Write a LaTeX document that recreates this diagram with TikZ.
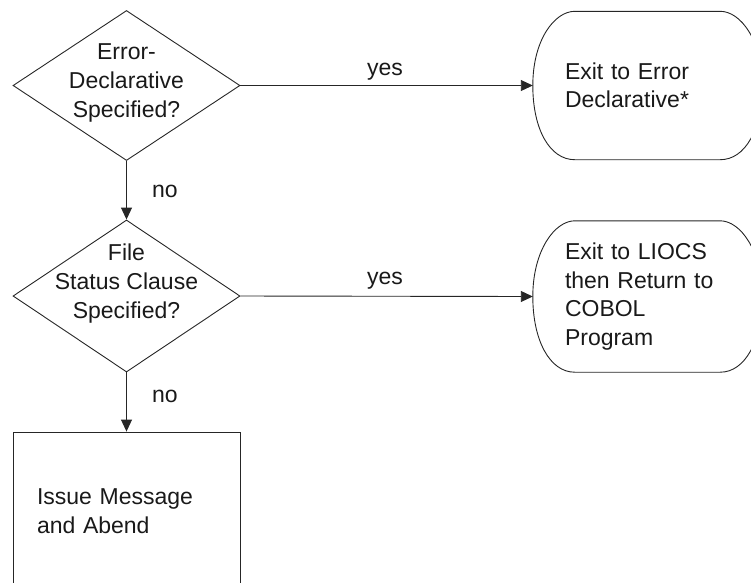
\documentclass[tikz,border=0pt]{standalone}
\usepackage{fontspec}
\setmainfont{Liberation Sans}
\usetikzlibrary{shapes.geometric,arrows.meta,calc}

% outline of a terminal box with bulging sides, drawn round a named node
\newcommand\exitoutline[1]{%
  \draw[line]
    ($(#1.north west)+(42,0)$) -- ($(#1.north east)+(-42,0)$)
    .. controls ($(#1.north east)+(-22,0)$) and ($(#1.east)+(0,-46)$) .. (#1.east)
    .. controls ($(#1.east)+(0,44)$) and ($(#1.south east)+(-17,0)$) .. ($(#1.south east)+(-42,0)$)
    -- ($(#1.south west)+(42,0)$)
    .. controls ($(#1.south west)+(17,0)$) and ($(#1.west)+(0,44)$) .. (#1.west)
    .. controls ($(#1.west)+(0,-46)$) and ($(#1.north west)+(22,0)$) .. cycle;}

\begin{document}
\begin{tikzpicture}[x=1pt,y=-1pt,
  line/.style={draw=black!85, line width=0.9pt},
  flow/.style={line, -{Triangle[length=12pt,width=11pt]}},
  txt/.style={font=\fontsize{23}{29}\selectfont, text=black!90},
  decision/.style={shape=diamond, line, minimum width=227pt, minimum height=150pt, inner sep=0pt},
  qtext/.style={txt, align=center, inner sep=0pt},
  exitbox/.style={shape=rectangle, txt, font=\fontsize{23}{28.5}\selectfont, align=left,
    inner xsep=32pt, inner ysep=0pt, text width=165pt, minimum width=229pt},
  procbox/.style={shape=rectangle, line, txt, align=left, inner xsep=24pt, inner ysep=0pt,
    text width=179pt, minimum width=227pt, minimum height=159pt},
  lbl/.style={txt, anchor=base, inner sep=0pt}
]
\useasboundingbox (0,0) rectangle (751,582);
\clip (0,0) rectangle (751,582);

% decisions
\node[decision] (d1) at (126.5,85.5) {};
\node[qtext, yshift=3pt] (d1t) at (d1) {Error-\\Declarative\\Specified?};
\node[decision, minimum height=152pt] (d2) at (126.5,296) {};
\node[qtext, yshift=12pt] (d2t) at (d2) {File\\Status Clause\\Specified?};

% terminals
\node[exitbox, minimum height=148pt] (exit1) at (647.5,85.5) {Exit to Error\\Declarative*};
\exitoutline{exit1}
\node[exitbox, minimum height=151pt] (exit2) at (647.5,296.5) {Exit to LIOCS\\then Return to\\COBOL\\Program};
\exitoutline{exit2}

% process
\node[procbox] (issue) at (126.5,511.5) {Issue Message\\and Abend};

% connectors
\draw[flow] (d1.east) -- (exit1.west);
\draw[flow] (d2.east) -- (exit2.west);
\draw[flow] (d1.south) -- (d2.north);
\draw[flow] (d2.south) -- (issue.north);

% branch labels
\node[lbl] (y1) at (385,75) {yes};
\node[lbl] (y2) at (385,284) {yes};
\node[lbl] (n1) at (165,197) {no};
\node[lbl] (n2) at (165,402) {no};
\end{tikzpicture}
\end{document}
